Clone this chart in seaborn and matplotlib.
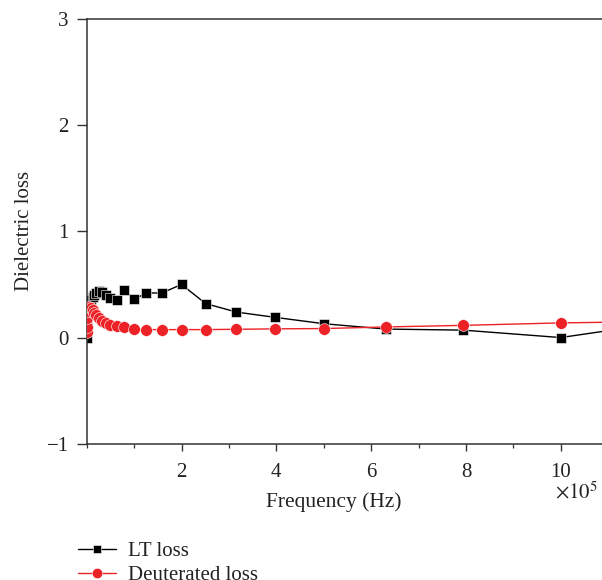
import matplotlib
matplotlib.use("Agg")
import matplotlib.pyplot as plt
from matplotlib.ticker import MultipleLocator
from matplotlib.lines import Line2D
import seaborn as sns
import pandas as pd

# frequency in units of 1e5 Hz
freq = [0.001, 0.005, 0.01, 0.02, 0.05, 0.1, 0.126, 0.158, 0.2, 0.251, 0.316,
        0.398, 0.501, 0.631, 0.794, 1.0, 1.26, 1.585, 2.0, 2.51, 3.16, 3.98,
        5.01, 6.31, 7.94, 10.0, 12.6]
lt_loss = [0.0, 0.12, 0.30, 0.32, 0.33, 0.35, 0.38, 0.40, 0.42, 0.44, 0.43,
           0.40, 0.37, 0.35, 0.45, 0.36, 0.42, 0.42, 0.50, 0.32, 0.24, 0.19,
           0.13, 0.08, 0.07, 0.0, 0.17]
deut_loss = [0.05, 0.10, 0.18, 0.25, 0.29, 0.28, 0.26, 0.23, 0.21, 0.18, 0.16,
             0.14, 0.12, 0.105, 0.095, 0.08, 0.075, 0.075, 0.075, 0.075, 0.078, 0.082,
             0.085, 0.10, 0.115, 0.138, 0.155]
series_names = ["LT loss", "Deuterated loss"]

df = pd.DataFrame({
    "freq": freq * 2,
    "loss": lt_loss + deut_loss,
    "series": [series_names[0]] * len(freq) + [series_names[1]] * len(freq),
})

sns.set_theme(style="ticks")
plt.rcParams["font.family"] = ["Liberation Serif", "DejaVu Serif"]
plt.rcParams["mathtext.fontset"] = "stix"

RED = "#EC2227"
TXT = "#222222"
fig = plt.figure(figsize=(6.02, 5.80), dpi=100)
ax = fig.add_axes([0.144, 0.235, 0.856, 0.732])

sns.lineplot(data=df, x="freq", y="loss", hue="series", style="series",
             palette={series_names[0]: "black", series_names[1]: RED},
             markers={series_names[0]: "s", series_names[1]: "o"},
             dashes=False, sort=False, estimator=None, linewidth=1.0,
             markersize=7.5, markeredgecolor="white", markeredgewidth=0.4,
             legend=False, ax=ax)
for ln in ax.lines:
    if ln.get_marker() == "o":
        ln.set_markersize(8.5)
        ln.set_zorder(3)
    else:
        ln.set_markersize(7)

ax.set_xlim(0, 10.87)
ax.set_ylim(-1, 3)
ax.xaxis.set_minor_locator(MultipleLocator(1))
ax.yaxis.set_minor_locator(MultipleLocator(0.5))
ax.set_xticks([2, 4, 6, 8, 10])
ax.set_xticklabels(["2", "4", "6", "8", "10"])
ax.set_yticks([-1, 0, 1, 2, 3])
ax.set_yticklabels(["\u22121", "0", "1", "2", "3"])

for s in ["left", "bottom", "top"]:
    ax.spines[s].set_visible(True)
    ax.spines[s].set_color("#333333")
    ax.spines[s].set_linewidth(1.1)
ax.spines["right"].set_visible(False)

ax.tick_params(axis="both", which="major", direction="out", length=5, width=1.0,
               color="#333333", labelsize=15, labelcolor=TXT)
ax.tick_params(axis="x", which="major", pad=9)
ax.tick_params(axis="y", which="major", pad=6, length=7)
ax.tick_params(axis="both", which="minor", direction="out", length=3, width=0.9,
               color="#333333")
ax.tick_params(axis="y", which="minor", length=0)

ax.set_xlabel("Frequency (Hz)", fontsize=15.5, color=TXT)
ax.set_ylabel("Dielectric loss", fontsize=15, color=TXT)
ax.xaxis.set_label_coords(0.48, -0.115)
ax.yaxis.set_label_coords(-0.103, 0.5)

fig.text(0.957, 0.150, r"$\times10^5$", fontsize=15, ha="center", va="center",
         color=TXT)

handles = [
    Line2D([], [], color="black", marker="s", markersize=6, linewidth=1.0,
           markeredgecolor="white", markeredgewidth=0.4),
    Line2D([], [], color=RED, marker="o", markersize=7.5, linewidth=1.0,
           markeredgecolor="white", markeredgewidth=0.4),
]
leg = fig.legend(handles, series_names, loc="upper left",
                 bbox_to_anchor=(0.130, 0.066), bbox_transform=fig.transFigure,
                 frameon=False, fontsize=15, handlelength=1.8, handletextpad=0.6,
                 labelspacing=0.2, borderaxespad=0, borderpad=0.0)
for t in leg.get_texts():
    t.set_color(TXT)

fig.savefig("out.png", dpi=100)
